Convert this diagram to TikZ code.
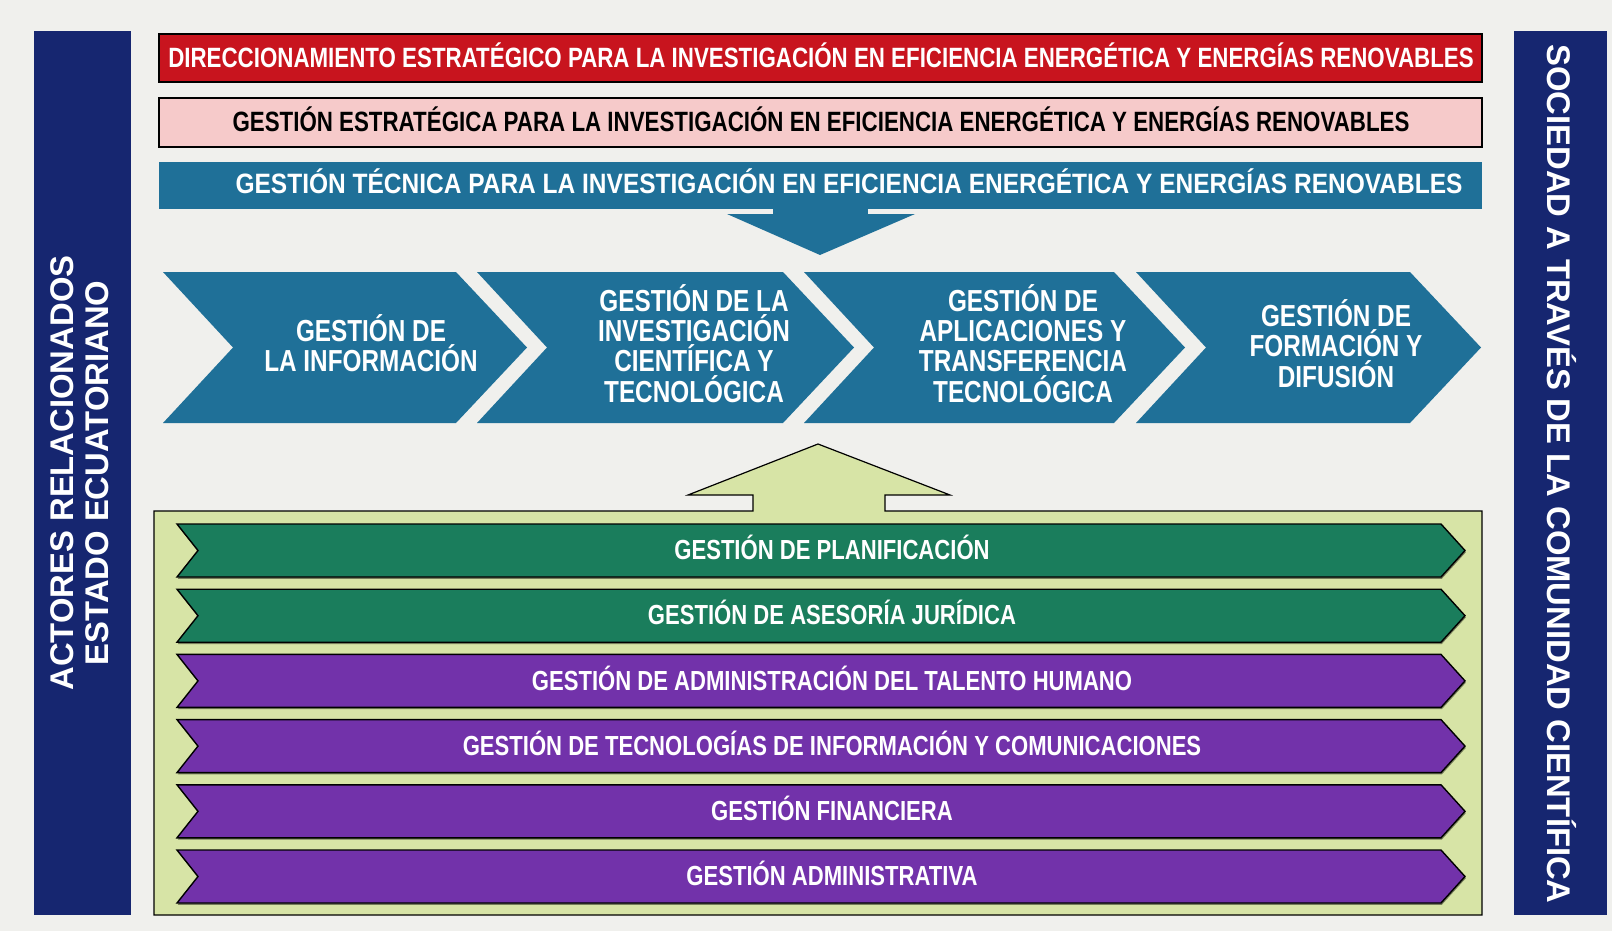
\documentclass[tikz,border=0pt]{standalone}
\usepackage{fontspec}
\setmainfont{Liberation Sans}
\newfontfamily\narrowfont{Liberation Sans}[FakeStretch=0.8]
\newfontfamily\halfnarrowfont{Liberation Sans}[FakeStretch=0.875]
\usetikzlibrary{shadows}
\definecolor{fondo}{RGB}{240,240,237}
\definecolor{marino}{RGB}{22,38,112}
\definecolor{rojo}{RGB}{200,20,30}
\definecolor{rosa}{RGB}{246,202,202}
\definecolor{azulpetroleo}{RGB}{31,112,152}
\definecolor{verdeclaro}{RGB}{215,228,166}
\definecolor{verde}{RGB}{26,125,92}
\definecolor{morado}{RGB}{114,50,170}

\begin{document}
\begin{tikzpicture}[x=0.5pt, y=-0.5pt,
	bartext/.style={inner sep=0, font=\narrowfont\bfseries\fontsize{13.95}{15}\selectfont},
	chevtext/.style={inner sep=0, align=center, text=white, font=\narrowfont\bfseries\fontsize{15.2}{15.1}\selectfont},
	ribtext/.style={inner sep=0, text=white, font=\narrowfont\bfseries\fontsize{13.8}{14}\selectfont},
	sidetext/.style={inner sep=0, align=center, text=white, font=\bfseries\fontsize{16.4}{17.5}\selectfont},
	ribbon/.style={draw=black, line width=0.7pt, line join=miter,
		drop shadow={shadow xshift=0.4pt, shadow yshift=-0.9pt, fill=black, opacity=0.45}}]
	% Background and side bars:
	\fill[fondo] (0,0) rectangle (1612,931);
	\fill[marino] (34,31) rectangle (131,915);
	\fill[marino] (1514,31) rectangle (1607,915);
	\node[sidetext, rotate=90] (actores) at (80,473) {ACTORES RELACIONADOS\\ESTADO ECUATORIANO};
	\node[sidetext, rotate=-90] (sociedad) at (1562,474) {SOCIEDAD A TRAVÉS DE LA COMUNIDAD CIENTÍFICA};
	% Top bars:
	\draw[fill=rojo, line width=0.6pt] (159,34) rectangle (1482,82);
	\node[bartext, text=white] (direccion) at (821,55) {DIRECCIONAMIENTO ESTRATÉGICO PARA LA INVESTIGACIÓN EN EFICIENCIA ENERGÉTICA Y ENERGÍAS RENOVABLES};
	\draw[fill=rosa, line width=0.6pt] (159,98) rectangle (1482,147);
	\node[bartext, text=black] (estrategica) at (821,119) {GESTIÓN ESTRATÉGICA PARA LA INVESTIGACIÓN EN EFICIENCIA ENERGÉTICA Y ENERGÍAS RENOVABLES};
	\fill[azulpetroleo] (159,162) rectangle (1482,209);
	\fill[azulpetroleo] (773,205) rectangle (868,215);
	\fill[azulpetroleo] (727,214) -- (915,214) -- (820,255) -- cycle;
	\node[bartext, text=white, font=\halfnarrowfont\bfseries\fontsize{14}{15}\selectfont] (tecnica) at (849,181) {GESTIÓN TÉCNICA PARA LA INVESTIGACIÓN EN EFICIENCIA ENERGÉTICA Y ENERGÍAS RENOVABLES};
	% Chevrons:
	\foreach \xa/\xb/\xt/\txt [count=\i] in {163/456/371/{GESTIÓN DE\\LA INFORMACIÓN},
		477/783/694/{GESTIÓN DE LA\\INVESTIGACIÓN\\CIENTÍFICA Y\\TECNOLÓGICA},
		804/1114/1023/{GESTIÓN DE\\APLICACIONES Y\\TRANSFERENCIA\\TECNOLÓGICA},
		1136/1410/1336/{GESTIÓN DE\\FORMACIÓN Y\\DIFUSIÓN}} {
		\fill[azulpetroleo] (\xa,272) -- (\xb,272) -- ({\xb+71},347.5) -- (\xb,423) -- (\xa,423) -- ({\xa+70},347.5) -- cycle;
		\node[chevtext] (chev\i) at (\xt,343.5) {\txt};
	}
	% Support box with up arrow:
	\draw[fill=verdeclaro, line width=0.6pt] (154,511) -- (753,511) -- (753,495) -- (688,495) -- (818,444)
		-- (950,495) -- (885,495) -- (885,511) -- (1482,511) -- (1482,915) -- (154,915) -- cycle;
	\foreach \col/\txt [count=\i] in {verde/GESTIÓN DE PLANIFICACIÓN,
		verde/GESTIÓN DE ASESORÍA JURÍDICA,
		morado/GESTIÓN DE ADMINISTRACIÓN DEL TALENTO HUMANO,
		morado/GESTIÓN DE TECNOLOGÍAS DE INFORMACIÓN Y COMUNICACIONES,
		morado/GESTIÓN FINANCIERA,
		morado/GESTIÓN ADMINISTRATIVA} {
		\pgfmathsetmacro\t{524+65.2*(\i-1)}
		\draw[ribbon, fill=\col] (177,\t) -- (1441,\t) -- (1465,{\t+26.5}) -- (1441,{\t+53})
			-- (177,{\t+53}) -- (198,{\t+26.5}) -- cycle;
		\node[ribtext] (rib\i) at (832,{\t+23.5}) {\txt};
	}
\end{tikzpicture}
\end{document}
